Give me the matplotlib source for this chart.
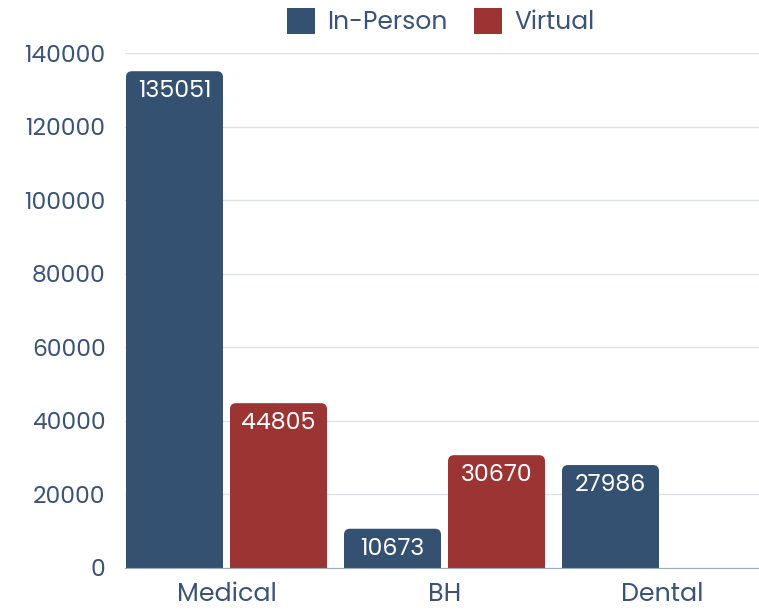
import matplotlib
matplotlib.use("Agg")
import matplotlib.pyplot as plt
from matplotlib.patches import FancyBboxPatch, Rectangle, Patch

categories = ["Medical", "BH", "Dental"]
series_names = ["In-Person", "Virtual"]
in_person = [135051, 10673, 27986]
virtual = [44805, 30670, 0]
y_ticks = [0, 20000, 40000, 60000, 80000, 100000, 120000, 140000]

colors = ["#355172", "#9c3434"]
text_color = "#3b5376"
plt.rcParams['font.family'] = ['Poppins', 'Lato', 'DejaVu Sans']

W, H = 759, 610
fig = plt.figure(figsize=(W / 100, H / 100), dpi=100)
ax = fig.add_axes([125 / W, (H - 568) / H, (W - 125) / W, (568 - 53) / H])

bar_w = 97 / 218
off = 52 / 218
xs = list(range(len(categories)))
ax.set_xlim(-101.5 / 218, (759 - 226.5) / 218)
ax.set_ylim(0, 140000)

px_x = (ax.get_xlim()[1] - ax.get_xlim()[0]) / (W - 125)
px_y = 140000 / (568 - 53)
r_px = 6

for si, vals in enumerate([in_person, virtual]):
    for i, v in enumerate(vals):
        if v <= 0:
            continue
        x0 = xs[i] + (-off if si == 0 else off) - bar_w / 2
        rx = r_px * px_x
        ry = r_px * px_y
        fb = FancyBboxPatch((x0 + rx, 0 + ry), bar_w - 2 * rx, v - 2 * ry,
                            boxstyle=f"round,pad={rx},rounding_size={rx}",
                            mutation_aspect=px_y / px_x,
                            facecolor=colors[si], edgecolor="none", zorder=3)
        ax.add_patch(fb)
        ax.add_patch(Rectangle((x0, 0), bar_w, v - ry, facecolor=colors[si],
                               edgecolor="none", zorder=3))
        ax.annotate(str(v), (xs[i] + (-off if si == 0 else off), v),
                    xytext=(0, -6.5), textcoords="offset points",
                    ha="center", va="top", color="white", fontsize=17, zorder=4)

ax.set_yticks(y_ticks)
ax.set_yticklabels([str(t) for t in y_ticks])
ax.set_xticks(xs)
ax.set_xticklabels(categories)
ax.tick_params(axis="both", length=0, colors=text_color)
ax.tick_params(axis="y", pad=14, labelsize=16.8)
ax.tick_params(axis="x", pad=10, labelsize=18.2)
ax.grid(axis="y", color="#dde2e8", linewidth=1, zorder=0)
ax.set_axisbelow(True)
for s in ["top", "right", "left"]:
    ax.spines[s].set_visible(False)
ax.spines["bottom"].set_color("#9aabc0")
ax.spines["bottom"].set_zorder(5)

handles = [Patch(facecolor=c, edgecolor="none") for c in colors]
fig.legend(handles, series_names, loc="center", bbox_to_anchor=(441 / W, 1 - 22 / H),
           ncol=2, frameon=False, fontsize=18, labelcolor=text_color,
           handlelength=1.12, handleheight=1.25, handletextpad=0.5, columnspacing=1.05)

fig.savefig("out.png", dpi=100)
